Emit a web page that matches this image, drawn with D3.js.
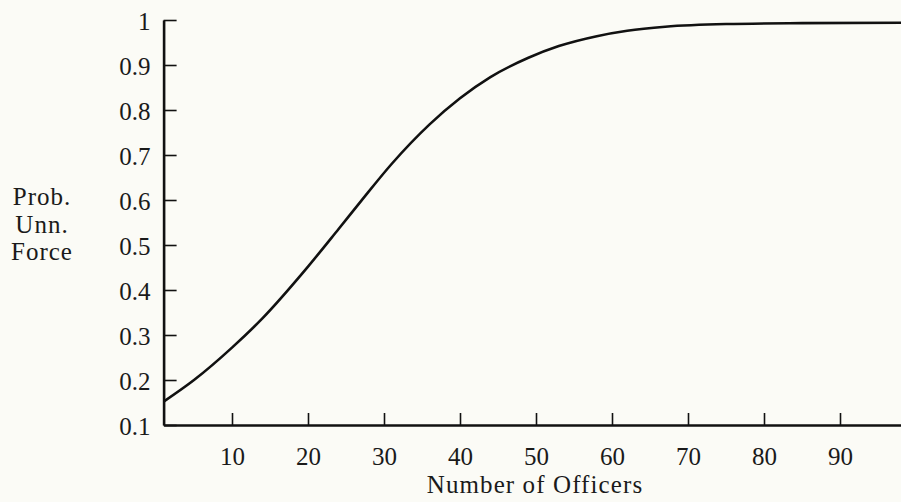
<!DOCTYPE html>
<html>
<head>
<meta charset="utf-8">
<script src="https://cdn.jsdelivr.net/npm/d3@7"></script>
<style>
	body { margin: 0; background: #fbfbf6; }
	svg { display: block; }
	text { font-family: "Liberation Serif", "Times New Roman", serif; fill: #1a1a1a; }
</style>
</head>
<body>
<div id="chart"></div>
<script>
//Values
const officers = [1, 5, 10, 14, 20, 24, 27, 31, 36, 40, 44, 49, 53, 58, 62, 67, 75, 85, 100];
const probForce = [0.152, 0.200, 0.272, 0.337, 0.452, 0.535, 0.598, 0.680, 0.768, 0.826, 0.873, 0.916, 0.942, 0.964, 0.976, 0.985, 0.991, 0.993, 0.994];
const xTicks = [10, 20, 30, 40, 50, 60, 70, 80, 90];
const yTicks = [0.1, 0.2, 0.3, 0.4, 0.5, 0.6, 0.7, 0.8, 0.9, 1];
const yLabelLines = ['Prob.', 'Unn.', 'Force'];

const config = {
	containerWidth: 901,
	containerHeight: 502,
	margin: {top: 20, left: 163.6, bottom: 77},
	plotRight: 916
};

const svg = d3.select('#chart').append('svg')
	.attr('width', config.containerWidth)
	.attr('height', config.containerHeight);

const height = config.containerHeight - config.margin.top - config.margin.bottom;
const width = config.plotRight - config.margin.left;

const chartArea = svg.append('g')
	.attr('transform', `translate(${config.margin.left},${config.margin.top})`);

//Scales
const xScale = d3.scaleLinear()
	.domain([1, 100])
	.range([0, width]);

const yScale = d3.scaleLinear()
	.domain([0.1, 1])
	.range([height, 0]);

//Axes with ticks pointing into the plot
const xAxis = d3.axisBottom(xScale)
	.tickValues(xTicks)
	.tickSizeInner(-12)
	.tickSizeOuter(0)
	.tickPadding(22)
	.tickFormat(d => d);

const yAxis = d3.axisLeft(yScale)
	.tickValues(yTicks)
	.tickSizeInner(-13)
	.tickSizeOuter(0)
	.tickPadding(13)
	.tickFormat(d => d === 1 ? '1' : d3.format('.1f')(d));

const gx = chartArea.append('g')
	.attr('class', 'x-axis')
	.attr('transform', `translate(0,${height})`)
	.call(xAxis);

const gy = chartArea.append('g')
	.attr('class', 'y-axis')
	.call(yAxis);

[gx, gy].forEach(g => {
	g.select('.domain').attr('stroke', '#111').attr('stroke-width', 2.6);
	g.selectAll('.tick line').attr('stroke', '#111').attr('stroke-width', 1.6);
	g.selectAll('.tick text')
		.style('font-family', '"Liberation Serif", serif')
		.style('font-size', '25px')
		.attr('fill', '#1a1a1a');
});
gy.selectAll('.tick text').attr('dy', '0.36em');

//Curve
const line = d3.line()
	.x((d, i) => xScale(d))
	.y((d, i) => yScale(probForce[i]))
	.curve(d3.curveMonotoneX);

chartArea.append('path')
	.datum(officers)
	.attr('d', line)
	.attr('fill', 'none')
	.attr('stroke', '#111')
	.attr('stroke-width', 2.6);

//X label
svg.append('text')
	.attr('id', 'x-label')
	.attr('text-anchor', 'middle')
	.attr('x', 535)
	.attr('y', 493)
	.style('font-size', '25px')
	.style('letter-spacing', '1.1px')
	.text('Number of Officers');

//Y label, three stacked lines
svg.append('text')
	.attr('id', 'y-label')
	.attr('text-anchor', 'middle')
	.style('font-size', '25px')
	.style('letter-spacing', '1px')
	.selectAll('tspan')
	.data(yLabelLines)
	.join('tspan')
	.attr('x', 42)
	.attr('y', (d, i) => 205 + i * 27.5)
	.text(d => d);
</script>
</body>
</html>
